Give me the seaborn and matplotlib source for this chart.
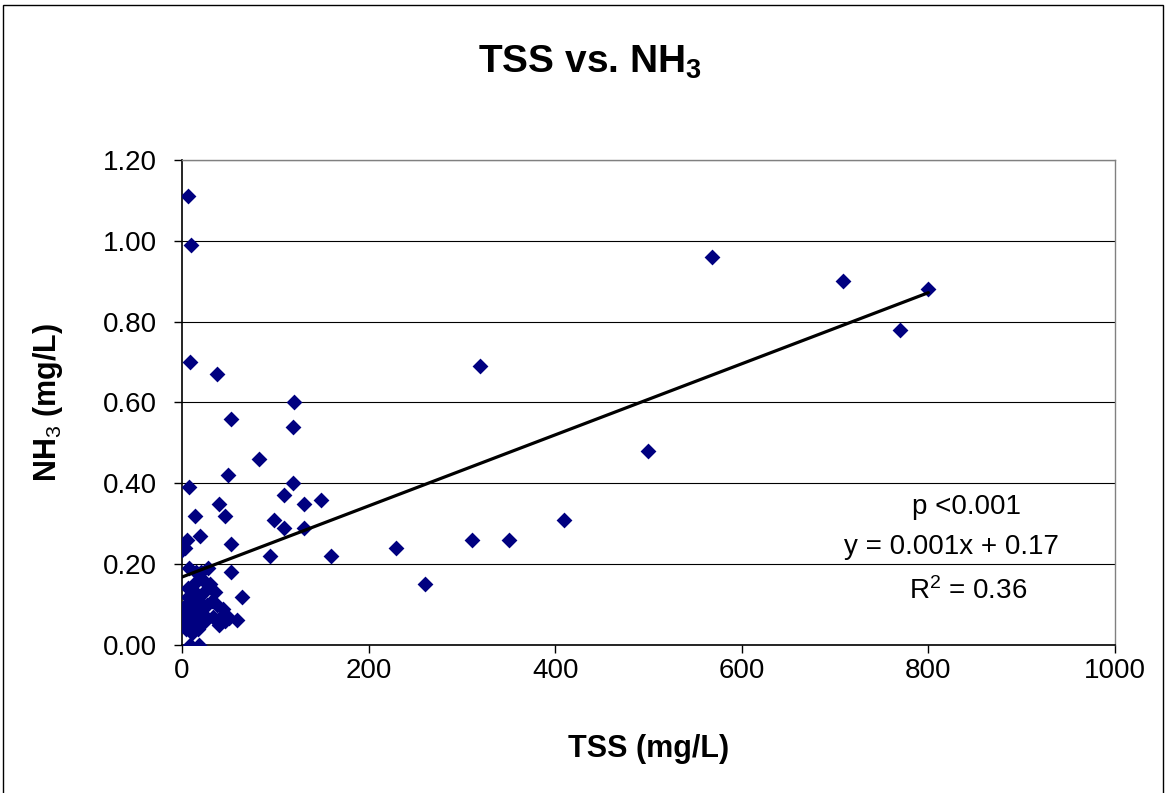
import numpy as np
import pandas as pd
import matplotlib
matplotlib.use("Agg")
import matplotlib.pyplot as plt
from matplotlib.patches import Rectangle
import seaborn as sns

# TSS (mg/L) and NH3 (mg/L) values
tss = [6, 10, 9, 37, 52, 120, 119, 83, 49, 119, 149, 8, 40, 109, 131, 46, 99, 109, 131,
       14, 19, 5, 0, 3, 52, 94, 160, 229, 260, 311, 350, 409, 319, 499, 568, 709, 770, 800,
       64, 50, 59, 9, 18, 53,
       0, 0, 1, 2, 3, 4, 4, 5, 6, 6, 7, 8, 8, 9, 10, 10, 11, 12, 12, 13, 14, 15, 16, 17,
       18, 19, 20, 21, 22, 24, 25, 27, 28, 30, 32, 33, 35, 37, 38, 40, 42, 44, 46, 8, 15]
nh3 = [1.11, 0.99, 0.70, 0.67, 0.56, 0.60, 0.54, 0.46, 0.42, 0.40, 0.36, 0.39, 0.35, 0.37, 0.35,
       0.32, 0.31, 0.29, 0.29, 0.32, 0.27, 0.26, 0.235, 0.24, 0.25, 0.22, 0.22, 0.24, 0.15, 0.26,
       0.26, 0.31, 0.69, 0.48, 0.96, 0.90, 0.78, 0.88,
       0.12, 0.067, 0.062, 0.0, 0.0, 0.18,
       0.05, 0.06, 0.09, 0.05, 0.06, 0.10, 0.04, 0.07, 0.14, 0.12, 0.07, 0.05, 0.10, 0.04, 0.12,
       0.07, 0.03, 0.05, 0.10, 0.15, 0.13, 0.07, 0.08, 0.04, 0.11, 0.06, 0.18, 0.08, 0.16, 0.13,
       0.06, 0.10, 0.19, 0.15, 0.11, 0.07, 0.13, 0.06, 0.10, 0.05, 0.07, 0.09, 0.06, 0.19, 0.18]

x_ticks = [0, 200, 400, 600, 800, 1000]
y_ticks = [0.0, 0.2, 0.4, 0.6, 0.8, 1.0, 1.2]
title = r"TSS vs. NH$_{\mathbf{3}}$"
x_label = "TSS (mg/L)"
y_label = r"NH$_3$ (mg/L)"
stats_lines = ["p <0.001", "y = 0.001x + 0.17", r"R$^2$ = 0.36"]

df = pd.DataFrame({"TSS": tss, "NH3": nh3})

sns.set_theme(style="white")
plt.rcParams["font.family"] = ["Liberation Sans", "DejaVu Sans"]
plt.rcParams["mathtext.fontset"] = "custom"
plt.rcParams["mathtext.rm"] = "Liberation Sans"
plt.rcParams["mathtext.it"] = "Liberation Sans:italic"
plt.rcParams["mathtext.bf"] = "Liberation Sans:bold"
plt.rcParams["text.color"] = "black"
plt.rcParams["axes.labelcolor"] = "black"

fig = plt.figure(figsize=(11.66, 7.93), dpi=100)
fig.patch.set_facecolor("white")
ax = fig.add_axes([182 / 1166, 1 - 645 / 793, (1115 - 182) / 1166, (645 - 160) / 793])

ax.yaxis.grid(True, color="black", linewidth=0.8)
ax.set_axisbelow(True)

sns.regplot(data=df, x="TSS", y="NH3", ax=ax, ci=None, truncate=True, marker="D",
            color="#000080",
            scatter_kws=dict(s=65, linewidths=0, alpha=1, zorder=3),
            line_kws=dict(color="black", linewidth=2.3, zorder=4))

ax.set_xlim(0, 1000)
ax.set_ylim(0, 1.2)
ax.set_xticks(x_ticks)
ax.set_yticks(y_ticks)
ax.set_xticklabels([str(v) for v in x_ticks])
ax.set_yticklabels([f"{v:.2f}" for v in y_ticks])
ax.tick_params(axis="both", direction="out", length=6, width=1, color="black",
               labelsize=20, labelcolor="black")
ax.tick_params(axis="y", pad=12)
ax.tick_params(axis="x", pad=3)
ax.tick_params(bottom=True, left=True)

for s in ["left", "bottom"]:
    ax.spines[s].set_color("black")
    ax.spines[s].set_linewidth(1.2)
for s in ["top", "right"]:
    ax.spines[s].set_color("#808080")
    ax.spines[s].set_linewidth(1.0)

ax.set_xlabel(x_label, fontsize=22, fontweight="bold", labelpad=36)
ax.set_ylabel(y_label, fontsize=22, fontweight="bold", labelpad=27)
fig.text(590 / 1166, 1 - 62 / 793, title, ha="center", va="center",
         fontsize=28, fontweight="bold")

for txt, ypx, xpx in zip(stats_lines, [507, 547, 591], [967, 951, 968]):
    fig.text(xpx / 1166, 1 - ypx / 793, txt, ha="center", va="center", fontsize=20)

fig.patches.append(Rectangle((3 / 1166, -0.01), 1160 / 1166, 1 - 5 / 793 + 0.01,
                             transform=fig.transFigure, fill=False,
                             edgecolor="black", linewidth=1.0))

fig.savefig("out.png", dpi=100)
